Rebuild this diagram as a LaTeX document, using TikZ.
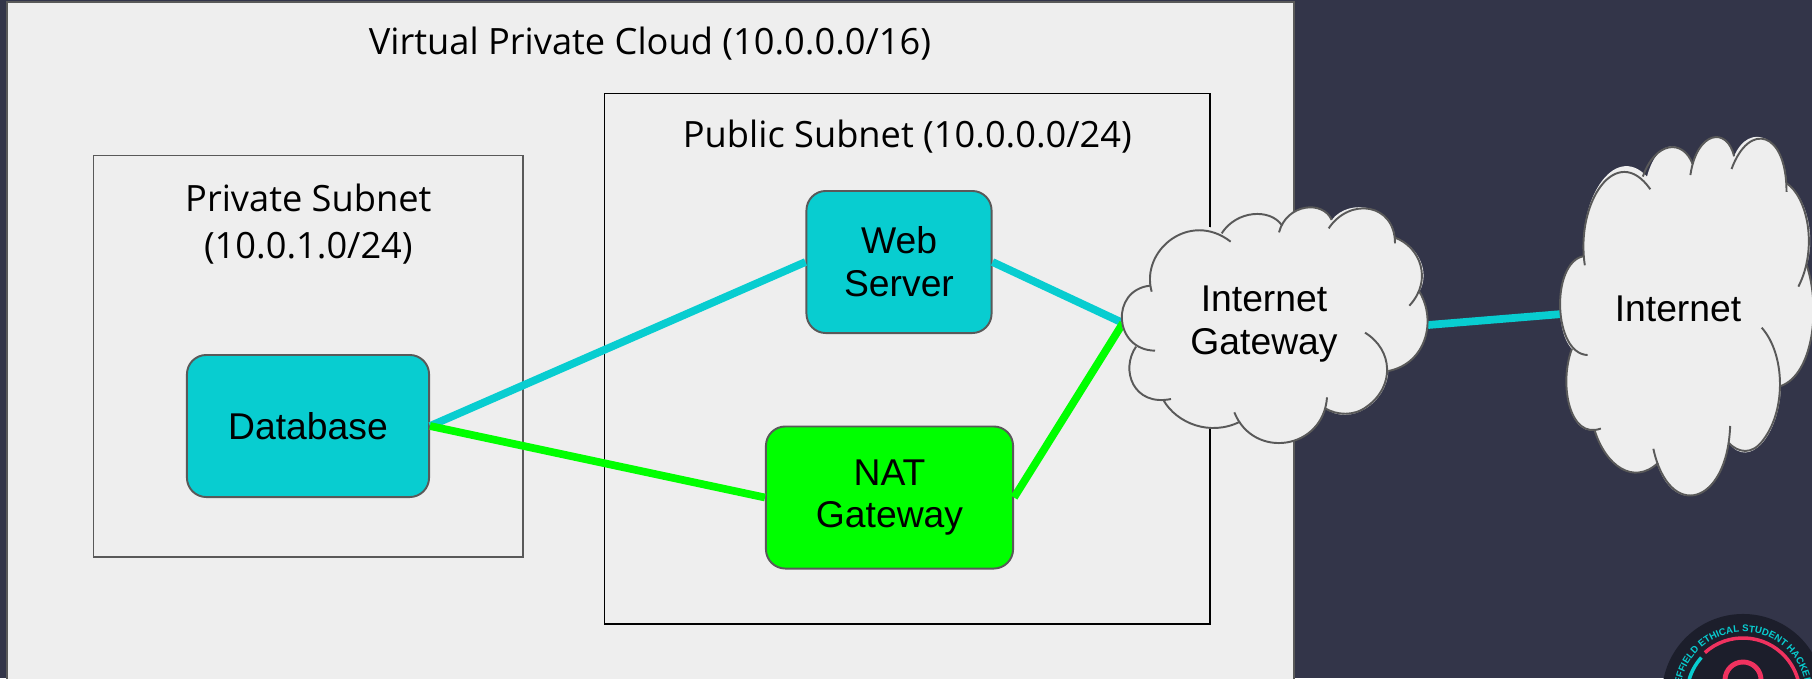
\documentclass[tikz,border=0pt]{standalone}
\usepackage{fontspec}
\setmainfont{Liberation Sans}
\newfontfamily\titlefont{Open Sans}
\usetikzlibrary{positioning,decorations.text}
\definecolor{slidebg}{HTML}{333549}
\definecolor{panelgrey}{HTML}{EEEEEE}
\definecolor{linegrey}{HTML}{595959}
\definecolor{servercyan}{HTML}{08CDD0}
\definecolor{natgreen}{HTML}{00FF00}
\definecolor{logodark}{HTML}{1C1E2B}
\definecolor{logored}{HTML}{F0325F}
\tikzset{
	subnetbox/.style={draw=black,line width=0.4pt,inner sep=0pt},
	titletext/.style={font=\titlefont\fontsize{10.3}{13.2}\selectfont,align=center,black},
	hostbox/.style={draw=linegrey,line width=0.55pt,rounded corners=5.5pt,align=center,inner sep=0pt,font=\fontsize{10.6}{12.2}\selectfont},
	cloudtext/.style={align=center,font=\fontsize{10.6}{12.2}\selectfont},
	cyanlink/.style={servercyan,line width=2.2pt},
	greenlink/.style={natgreen,line width=2.2pt},
}
% one cloud, in the pixels of a box of 1000 by 800
\newcommand{\cloudshape}[1]{
	\begin{scope}[#1]
		\fill[panelgrey] (155,305)..controls (120,180) and (260,60) ..(380,130)
			..controls (420,50) and (510,60) ..(545,105)
			..controls (580,35) and (670,40) ..(695,90)
			..controls (750,20) and (880,50) ..(885,143)
			..controls (960,170) and (990,250) ..(958,305)
			..controls (1010,390) and (980,520) ..(865,543)
			..controls (860,640) and (750,710) ..(675,655)
			..controls (640,770) and (480,800) ..(415,695)
			..controls (330,740) and (230,700) ..(190,630)
			..controls (100,640) and (60,540) ..(108,470)
			..controls (40,430) and (50,300) ..(150,287)--cycle;
		\draw[linegrey,line width=0.55pt] (155,305)..controls (120,180) and (270,60) ..(392,155);
		\draw[linegrey,line width=0.55pt] (365,130)..controls (410,60) and (510,55) ..(545,105);
		\draw[linegrey,line width=0.55pt] (537,127)..controls (560,40) and (670,30) ..(695,90);
		\draw[linegrey,line width=0.55pt] (686,115)..controls (750,20) and (885,40) ..(885,160);
		\draw[linegrey,line width=0.55pt] (885,143)..controls (960,170) and (1000,270) ..(928,347);
		\draw[linegrey,line width=0.55pt] (958,305)..controls (1010,390) and (980,520) ..(865,543);
		\draw[linegrey,line width=0.55pt] (795,428)..controls (880,480) and (885,590) ..(800,650)
			..controls (760,680) and (710,675) ..(675,655);
		\draw[linegrey,line width=0.55pt] (681,622)..controls (670,780) and (460,810) ..(403,667);
		\draw[linegrey,line width=0.55pt] (420,695)..controls (330,740) and (230,700) ..(190,630);
		\draw[linegrey,line width=0.55pt] (213,627)..controls (100,650) and (60,540) ..(108,470);
		\draw[linegrey,line width=0.55pt] (165,482)..controls (40,480) and (30,300) ..(150,287);
	\end{scope}
}
\begin{document}
\begin{tikzpicture}[x=0.01cm,y=-0.01cm]
	\useasboundingbox (0,0) rectangle (1812,678);
	\clip (0,0) rectangle (1812,678);
	\fill[slidebg] (0,0) rectangle (1812,678);
	% boxes
	\draw[linegrey,fill=panelgrey,line width=0.55pt] (7,2) rectangle (1294,700);
	\node[subnetbox,draw=linegrey,minimum width=4.29cm,minimum height=4.01cm,anchor=north west] (private) at (93,155) {};
	\node[subnetbox,minimum width=6.05cm,minimum height=5.30cm,anchor=north west] (public) at (604,93) {};
	\node[titletext] (vpclabel) at (650,44) {Virtual Private Cloud (10.0.0.0/16)};
	\node[titletext,below=0.15cm of public.north] (publiclabel) {Public Subnet (10.0.0.0/24)};
	\node[titletext,below=0.17cm of private.north] (privatelabel) {Private Subnet\\(10.0.1.0/24)};
	% hosts
	\node[hostbox,fill=servercyan,minimum width=1.85cm,minimum height=1.42cm] (web) at (899,262) {Web\\Server};
	\node[hostbox,fill=servercyan,minimum width=2.42cm,minimum height=1.42cm] (database) at (308,426) {Database};
	\node[hostbox,fill=natgreen,minimum width=2.47cm,minimum height=1.42cm] (nat) at (889.5,497.5) {NAT\\Gateway};
	\coordinate (gwin) at (1123,323);
	\coordinate (gwout) at (1428,325);
	\coordinate (netin) at (1562,314);
	% links
	\draw[cyanlink] (database.east)--(web.west);
	\draw[greenlink] (database.east)--(nat.west);
	\draw[cyanlink] (web.east)--(gwin);
	\draw[greenlink] (nat.east)--(gwin);
	\draw[cyanlink] (gwout)--(netin);
	% clouds
	\cloudshape{shift={(1100,190)},x=0.01cm/3,y=-0.01cm/3}
	\cloudshape{shift={(1542,110.7)},x=0.002756cm,y=-0.00507cm}
	\node[cloudtext] (gateway) at (1264,324) {Internet\\Gateway};
	\node[cloudtext] (internet) at (1678,309) {Internet};
	% logo
	\coordinate (logo) at (1743,695);
	\fill[logodark] (logo) circle (0.81cm);
	\draw[logored,line width=1pt] ([shift={(132:0.57cm)}]logo) arc (132:-10:0.57cm);
	\draw[servercyan,line width=1pt] ([shift={(138:0.56cm)}]logo) arc (138:200:0.56cm);
	\draw[logored,line width=1.4pt] ([shift={(-0.18cm,-0.05cm)}]logo)--([shift={(-0.18cm,0.15cm)}]logo)
		arc (180:0:0.18cm)--([shift={(0.18cm,-0.05cm)}]logo);
	\path[decorate,decoration={text along path,text align=center,
		text={|\bfseries\fontsize{2.75}{4}\selectfont\color{servercyan}|SHEFFIELD ETHICAL STUDENT HACKERS}}]
		([shift={(183:0.63cm)}]logo) arc (183:3:0.63cm);
\end{tikzpicture}
\end{document}
